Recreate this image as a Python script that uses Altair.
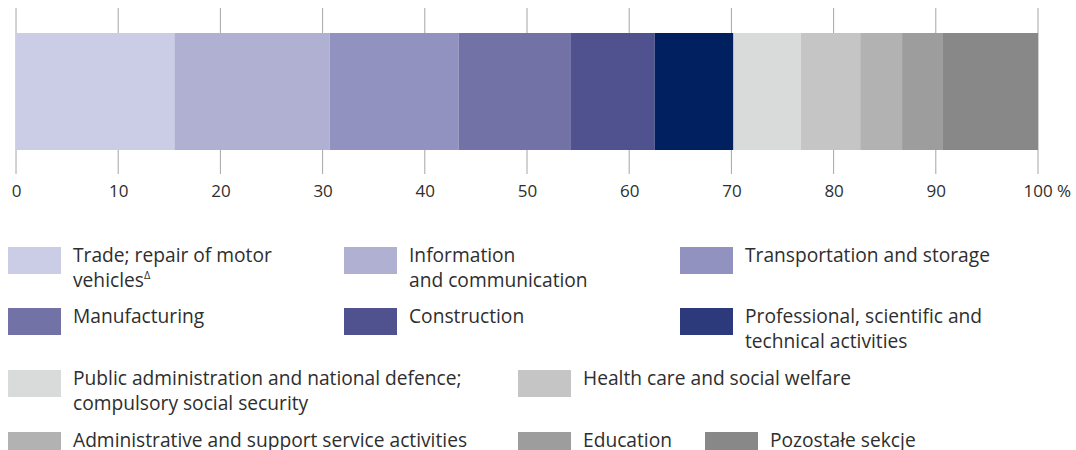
import altair as alt
import pandas as pd

# ---- data ----
sectors = [
    "Trade; repair of motor vehicles",
    "Information and communication",
    "Transportation and storage",
    "Manufacturing",
    "Construction",
    "Professional, scientific and technical activities",
    "Public administration and national defence; compulsory social security",
    "Health care and social welfare",
    "Administrative and support service activities",
    "Education",
    "Pozostałe sekcje",
]
shares = [15.5, 15.2, 12.6, 11.0, 8.2, 7.7, 6.6, 5.8, 4.1, 4.0, 9.3]
legend_labels = [
    "Trade; repair of motor\nvehicles",
    "Information\nand communication",
    "Transportation and storage",
    "Manufacturing",
    "Construction",
    "Professional, scientific and\ntechnical activities",
    "Public administration and national defence;\ncompulsory social security",
    "Health care and social welfare",
    "Administrative and support service activities",
    "Education",
    "Pozostałe sekcje",
]
bar_colors = ["#cbcce5", "#b0b0d2", "#9192bf", "#7272a7", "#4f528f", "#00205f",
              "#d9dbda", "#c4c5c4", "#b1b2b1", "#9c9d9c", "#888888"]
legend_colors = ["#cbcce5", "#b0b0d2", "#9192bf", "#7272a7", "#4f528f", "#2c3a7b",
                 "#d9dbda", "#c4c5c4", "#b1b2b1", "#9c9d9c", "#888888"]
tick_values = [0, 10, 20, 30, 40, 50, 60, 70, 80, 90, 100]

# ---- layout (pixels) ----
W, H = 1076, 450
FONT = "Open Sans"
TEXT_COLOR = "#2e2e2e"
col_x = [[8, 344, 680], [8, 344, 680], [8, 518], [8, 518, 705]]
row_top = [247, 308, 370, 432]
SW_W, SW_H, TXT_DX, BASE_DY = 53, 27, 65, 15

starts, ends, acc = [], [], 0.0
for v in shares:
    starts.append(acc)
    acc += v
    ends.append(acc)
bar_df = pd.DataFrame({"sector": sectors, "start": starts, "end": ends, "share": shares})

lx, ly = [], []
for r, xs_row in enumerate(col_x):
    for cx in xs_row:
        lx.append(cx)
        ly.append(row_top[r])
leg_df = pd.DataFrame({
    "sector": sectors,
    "label": legend_labels,
    "x": lx,
    "x2": [v + SW_W for v in lx],
    "y": ly,
    "y2": [v + SW_H for v in ly],
    "tx": [v + TXT_DX for v in lx],
    "ty": [v + BASE_DY for v in ly],
})
sup_df = pd.DataFrame({"t": ["Δ"], "x": [lx[0] + TXT_DX + 71], "y": [ly[0] + BASE_DY + 25 - 8]})

xs = alt.Scale(domain=[0, 100], range=[16, 1038], nice=False, zero=False)
px = alt.Scale(domain=[0, W], range=[0, W], nice=False, zero=False)
py = alt.Scale(domain=[0, H], range=[0, H], nice=False, zero=False)

axis = alt.Axis(
    values=tick_values, offset=-(H - 174), domain=False, ticks=False, tickSize=0,
    grid=False, title=None, labelFont=FONT, labelFontSize=17, labelColor=TEXT_COLOR,
    labelPadding=9,
    labelExpr="datum.value == 100 ? '100 %' : datum.label",
    labelAlign={"condition": {"test": "datum.value == 100", "value": "left"}, "value": "center"},
    labelOffset={"condition": {"test": "datum.value == 100", "value": -15}, "value": 0},
)

grid = alt.Chart(pd.DataFrame({"t": tick_values})).mark_rule(color="#a6a6a6", strokeWidth=1).encode(
    x=alt.X("t:Q", scale=xs, axis=axis),
    y=alt.value(8), y2=alt.value(174),
)

bar = alt.Chart(bar_df).mark_rect().encode(
    x=alt.X("start:Q", scale=xs, axis=None),
    x2="end:Q",
    y=alt.value(33), y2=alt.value(150),
    color=alt.Color("sector:N", scale=alt.Scale(domain=sectors, range=bar_colors), legend=None),
    tooltip=["sector:N", "share:Q"],
)

swatch = alt.Chart(leg_df).mark_rect().encode(
    x=alt.X("x:Q", scale=px, axis=None), x2="x2:Q",
    y=alt.Y("y:Q", scale=py, axis=None), y2="y2:Q",
    color=alt.Color("sector:N", scale=alt.Scale(domain=sectors, range=legend_colors), legend=None),
)

labels = alt.Chart(leg_df).mark_text(
    align="left", baseline="alphabetic", font=FONT, fontSize=19.2, color=TEXT_COLOR,
    lineBreak="\n", lineHeight=25,
).encode(
    x=alt.X("tx:Q", scale=px, axis=None),
    y=alt.Y("ty:Q", scale=py, axis=None),
    text="label:N",
)

sup = alt.Chart(sup_df).mark_text(
    align="left", baseline="alphabetic", font=FONT, fontSize=11, color=TEXT_COLOR,
).encode(
    x=alt.X("x:Q", scale=px, axis=None),
    y=alt.Y("y:Q", scale=py, axis=None),
    text="t:N",
)

chart = alt.layer(grid, bar, swatch, labels, sup).resolve_scale(
    x="independent", y="independent", color="independent"
).properties(
    width=W, height=H, padding=0, autosize=alt.AutoSizeParams(type="none"),
    background="white",
).configure_view(stroke=None)

chart.save("out.html", embed_options={"renderer": "svg", "actions": False})
